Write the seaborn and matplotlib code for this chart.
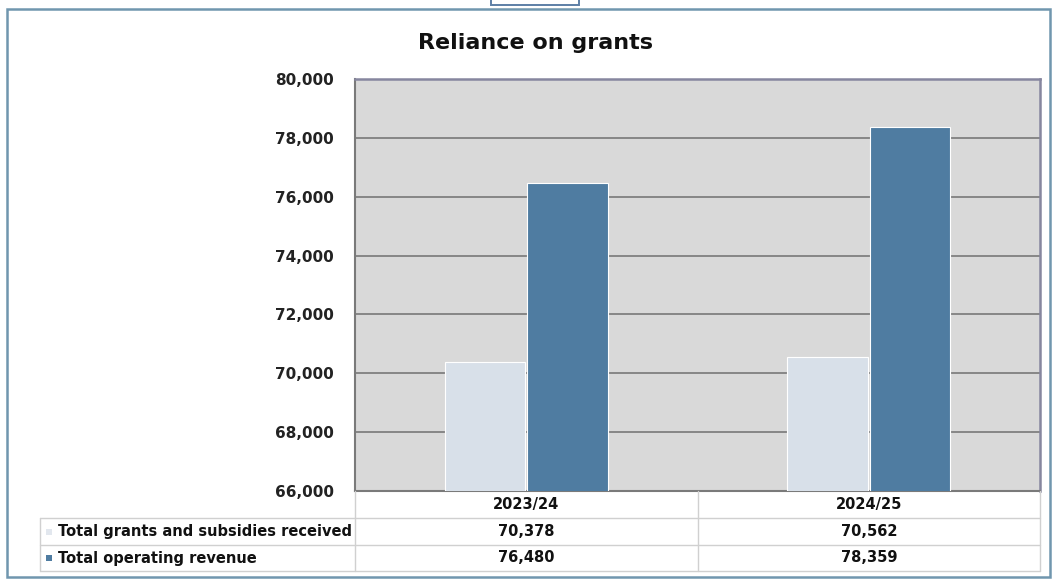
import matplotlib
matplotlib.use("Agg")
import matplotlib.pyplot as plt
from matplotlib.patches import Rectangle
from matplotlib.lines import Line2D
import seaborn as sns
import pandas as pd

# Chart data
years = ["2023/24", "2024/25"]
series_names = ["Total grants and subsidies received", "Total operating revenue"]
grants = [70378, 70562]
operating_revenue = [76480, 78359]
y_ticks = [66000, 68000, 70000, 72000, 74000, 76000, 78000, 80000]

colors = ["#D8E0E9", "#4F7CA1"]

df = pd.DataFrame({
    "year": years * 2,
    "series": [series_names[0]] * len(years) + [series_names[1]] * len(years),
    "value": grants + operating_revenue,
})

sns.set_theme(style="white")
plt.rcParams["font.family"] = ["DejaVu Sans"]

W, H = 1053, 580
fig = plt.figure(figsize=(W / 100, H / 100), dpi=100)
fig.patch.set_facecolor("white")


def fx(x):
    return x / W


def fy(y):
    return 1 - y / H


# Plot area
left, right, top, bottom = 355, 1040, 79, 491
ax = fig.add_axes([fx(left), fy(bottom), fx(right - left), (bottom - top) / H])
ax.set_facecolor("#D9D9D9")

sns.barplot(data=df, x="year", y="value", hue="series", order=years,
            hue_order=series_names, palette=colors, width=0.48, gap=0.02,
            edgecolor="white", linewidth=0.8, saturation=1, ax=ax, zorder=3)

ax.set_ylim(y_ticks[0], y_ticks[-1])
ax.set_yticks(y_ticks)
ax.set_yticklabels([f"{v:,}" for v in y_ticks], fontsize=11,
                   fontweight="bold", color="#222222")
ax.tick_params(axis="y", length=0, pad=15)
ax.set_xticks([])
ax.set_xlabel("")
ax.set_ylabel("")
ax.set_xlim(-0.5, 1.5)
ax.yaxis.grid(True, color="#808080", linewidth=1.3)
ax.set_axisbelow(True)
legend = ax.get_legend()
if legend is not None:
    legend.remove()

for side in ["top", "right"]:
    ax.spines[side].set_color("#86869F")
    ax.spines[side].set_linewidth(1.8)
for side in ["left", "bottom"]:
    ax.spines[side].set_color("#7A7A7A")
    ax.spines[side].set_linewidth(1.5)

# Title
fig.text(fx(535), fy(43), "Reliance on grants", ha="center", va="center",
         fontsize=16, fontweight="bold", color="#111111")

# Outer frame and small tab at top
fig.add_artist(Rectangle((fx(7), fy(577)), fx(1043), (577 - 9) / H,
                         transform=fig.transFigure, fill=False,
                         edgecolor="#7096AE", linewidth=1.8))
fig.add_artist(Rectangle((fx(491), fy(5)), fx(88), 6 / H,
                         transform=fig.transFigure, fill=False,
                         edgecolor="#5D7FA6", linewidth=1.4))

# Data table below the plot
line_kw = dict(transform=fig.transFigure, color="#D0D0D0", linewidth=1.0)
tbl_left, col_mid = 40, 698
row_edges = [491, 518, 545, 571]

# horizontal rules
for yv in row_edges[1:]:
    fig.add_artist(Line2D([fx(tbl_left), fx(right)], [fy(yv), fy(yv)], **line_kw))
# vertical rules
fig.add_artist(Line2D([fx(tbl_left), fx(tbl_left)], [fy(518), fy(571)], **line_kw))
for xv in [left, col_mid, right]:
    fig.add_artist(Line2D([fx(xv), fx(xv)], [fy(491), fy(571)], **line_kw))

text_kw = dict(fontsize=10.5, fontweight="bold", color="#111111", va="center")
col_centers = [(left + col_mid) / 2, (col_mid + right) / 2]
for xc, yr in zip(col_centers, years):
    fig.text(fx(xc), fy(505), yr, ha="center", **text_kw)

rows = [grants, operating_revenue]
for i, (name, vals) in enumerate(zip(series_names, rows)):
    yc = (row_edges[i + 1] + row_edges[i + 2]) / 2
    fig.add_artist(Rectangle((fx(46), fy(yc + 3)), 6 / W, 6 / H,
                             transform=fig.transFigure,
                             facecolor=colors[i] if i == 1 else "#E2E7EE",
                             edgecolor="none"))
    fig.text(fx(58), fy(yc), name, ha="left", **text_kw)
    for xc, v in zip(col_centers, vals):
        fig.text(fx(xc), fy(yc), f"{v:,}", ha="center", **text_kw)

fig.savefig("out.png", dpi=100)
